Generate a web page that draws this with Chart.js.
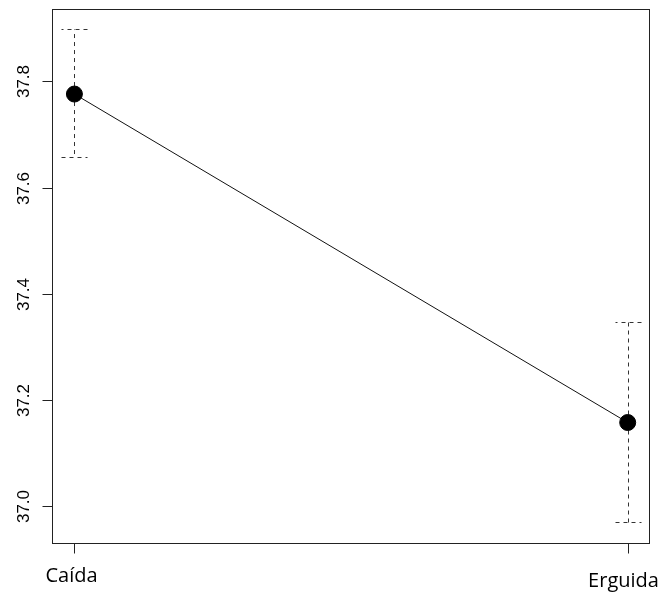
<!DOCTYPE html>
<html>
<head>
<meta charset="utf-8">
<script src="https://cdn.jsdelivr.net/npm/chart.js@4.4.1/dist/chart.umd.min.js"></script>
<style>
  html, body { margin: 0; padding: 0; background: #ffffff; }
  #wrap { width: 663px; height: 593px; }
</style>
</head>
<body>
<div id="wrap"><canvas id="c" width="663" height="593"></canvas></div>
<script>
const categories = ['Caída', 'Erguida'];
const means = [37.776, 37.158];
const upper = [37.898, 37.347];
const lower = [37.657, 36.970];
const yTicks = [37.0, 37.2, 37.4, 37.6, 37.8];

const points = categories.map((c, i) => ({ x: i + 1, y: means[i] }));

const framePlugin = {
  id: 'frame',
  beforeDatasetsDraw(chart) {
    const ctx = chart.ctx;
    const xs = chart.scales.x, ys = chart.scales.y;
    ctx.save();
    ctx.strokeStyle = '#333333';
    ctx.lineWidth = 1;
    ctx.setLineDash([4, 4]);
    categories.forEach((c, i) => {
      const px = Math.round(xs.getPixelForValue(i + 1)) + 0.5;
      const pm = ys.getPixelForValue(means[i]);
      const pu = Math.round(ys.getPixelForValue(upper[i])) + 0.5;
      const pl = Math.round(ys.getPixelForValue(lower[i])) + 0.5;
      ctx.beginPath();
      ctx.moveTo(px, pm); ctx.lineTo(px, pu);
      ctx.moveTo(px, pm); ctx.lineTo(px, pl);
      ctx.stroke();
      ctx.beginPath();
      ctx.moveTo(px + 13, pu); ctx.lineTo(px - 13, pu);
      ctx.moveTo(px - 13, pl); ctx.lineTo(px + 13, pl);
      ctx.stroke();
    });
    ctx.restore();
  },
  afterDraw(chart) {
    const ctx = chart.ctx;
    const a = chart.chartArea;
    const xs = chart.scales.x, ys = chart.scales.y;
    ctx.save();
    ctx.strokeStyle = '#222222';
    ctx.lineWidth = 1;
    ctx.setLineDash([]);
    const L = Math.round(a.left) + 0.5, R = Math.round(a.right) + 0.5;
    const T = Math.round(a.top) + 0.5, B = Math.round(a.bottom) + 0.5;
    ctx.strokeRect(L, T, R - L, B - T);
    // y ticks
    ctx.fillStyle = '#000000';
    ctx.font = '17px "Liberation Sans", Arial, sans-serif';
    yTicks.forEach(v => {
      const py = Math.round(ys.getPixelForValue(v)) + 0.5;
      ctx.beginPath();
      ctx.moveTo(L, py); ctx.lineTo(L - 10, py);
      ctx.stroke();
      ctx.save();
      ctx.translate(29, py);
      ctx.rotate(-Math.PI / 2);
      ctx.textAlign = 'center';
      ctx.textBaseline = 'alphabetic';
      ctx.fillText(v.toFixed(1), 0, 0);
      ctx.restore();
    });
    // x ticks
    ctx.font = '20px "Open Sans", sans-serif';
    ctx.textAlign = 'center';
    ctx.textBaseline = 'alphabetic';
    const labelShift = [[-3, 0], [-5, 5]];
    categories.forEach((c, i) => {
      const px = Math.round(xs.getPixelForValue(i + 1)) + 0.5;
      ctx.beginPath();
      ctx.moveTo(px, B); ctx.lineTo(px, B + 10);
      ctx.stroke();
      ctx.fillText(c, px + labelShift[i][0], 582 + labelShift[i][1]);
    });
    ctx.restore();
  }
};

new Chart(document.getElementById('c'), {
  type: 'scatter',
  data: {
    datasets: [{
      data: points,
      showLine: true,
      borderColor: '#111111',
      borderWidth: 1,
      backgroundColor: '#000000',
      pointBackgroundColor: '#000000',
      pointBorderColor: '#000000',
      pointRadius: 8,
      pointHoverRadius: 8,
      clip: false
    }]
  },
  options: {
    responsive: false,
    animation: false,
    events: [],
    layout: { padding: { left: 52, right: 14, top: 8, bottom: 50 } },
    plugins: { legend: { display: false }, tooltip: { enabled: false } },
    scales: {
      x: { type: 'linear', display: false, min: 0.9595, max: 2.0385 },
      y: { type: 'linear', display: false, min: 36.9313, max: 37.936 }
    }
  },
  plugins: [framePlugin]
});
</script>
</body>
</html>
